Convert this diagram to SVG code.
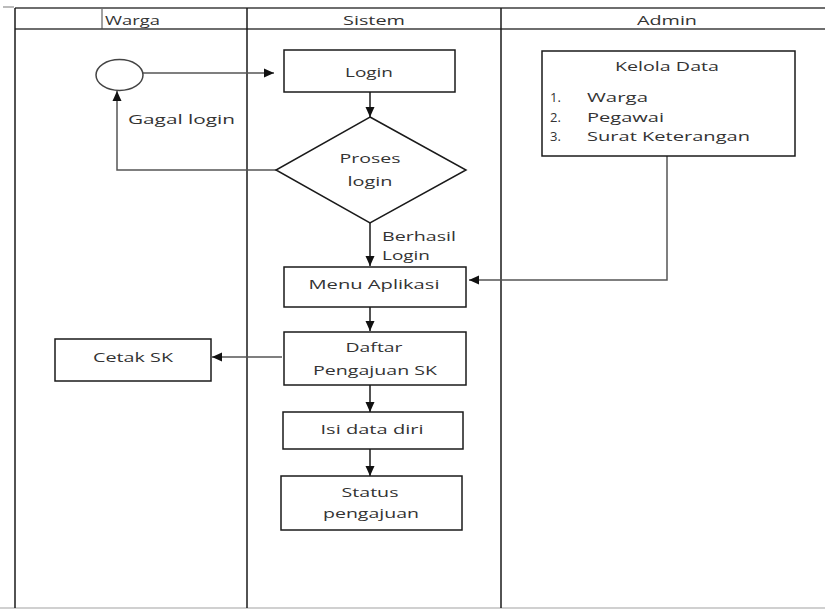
<svg xmlns="http://www.w3.org/2000/svg" width="825" height="610" viewBox="0 0 825 610">
<style>
  .lane{stroke:#1a1a1a;stroke-width:1.5;fill:none}
  .hline{stroke:#6e6e6e;stroke-width:2;fill:none}
  .box{fill:#fff;stroke:#1a1a1a;stroke-width:1.5}
  .edge{stroke:#1a1a1a;stroke-width:1.5;fill:none}
  .edgeg{stroke:#555;stroke-width:1.5;fill:none}
  text{font-family:"Open Sans","Liberation Sans",sans-serif;font-size:13px;fill:#333}
  .c{text-anchor:middle}
</style>
<defs>
  <marker id="arr" markerUnits="userSpaceOnUse" markerWidth="10" markerHeight="10" viewBox="0 0 10 10" refX="10" refY="5" orient="auto">
    <path d="M0,0.5 L10,5 L0,9.5 Z" fill="#111"/>
  </marker>
</defs>
<rect x="3" y="6" width="11" height="2" fill="#bbb"/>
<g id="lanes">
  <line class="hline" x1="15" y1="8" x2="825" y2="8"/>
  <line class="hline" x1="15" y1="29" x2="825" y2="29"/>
  <line x1="0" y1="608" x2="825" y2="608" stroke="#d0d0d0" stroke-width="2"/>
  <line class="lane" x1="15" y1="8" x2="15" y2="608"/>
  <line class="lane" x1="247" y1="8" x2="247" y2="608"/>
  <line class="lane" x1="501" y1="8" x2="501" y2="608"/>
  <line x1="102" y1="9" x2="102" y2="29" stroke="#444" stroke-width="1"/>
  <text x="105" y="25" textLength="55" lengthAdjust="spacingAndGlyphs">Warga</text>
  <text class="c" x="374" y="25" textLength="62" lengthAdjust="spacingAndGlyphs">Sistem</text>
  <text class="c" x="667" y="25" textLength="60" lengthAdjust="spacingAndGlyphs">Admin</text>
</g>
<g id="connectors">
  <line class="edgeg" x1="143" y1="73" x2="274" y2="73" marker-end="url(#arr)"/>
  <line class="edge" x1="370" y1="92" x2="370" y2="117" marker-end="url(#arr)"/>
  <polyline class="edgeg" points="276,170 117,170 117,91" marker-end="url(#arr)"/>
  <line class="edge" x1="370" y1="223" x2="370" y2="266" marker-end="url(#arr)"/>
  <polyline class="edgeg" points="667,156 667,280 469,280" marker-end="url(#arr)"/>
  <line class="edge" x1="370" y1="307" x2="370" y2="331" marker-end="url(#arr)"/>
  <line class="edgeg" x1="282" y1="357" x2="212" y2="357" marker-end="url(#arr)"/>
  <line class="edge" x1="370" y1="385" x2="370" y2="412" marker-end="url(#arr)"/>
  <line class="edge" x1="370" y1="449" x2="370" y2="476" marker-end="url(#arr)"/>
  <text x="128" y="124" textLength="107" lengthAdjust="spacingAndGlyphs">Gagal  login</text>
  <text x="382" y="241" textLength="74" lengthAdjust="spacingAndGlyphs">Berhasil</text>
  <text x="382" y="260" textLength="48" lengthAdjust="spacingAndGlyphs">Login</text>
</g>
<g id="start">
  <ellipse cx="119.5" cy="75" rx="23.5" ry="15.5" fill="#fff" stroke="#444" stroke-width="1.5"/>
</g>
<g id="login">
  <rect class="box" x="284" y="50" width="171" height="42"/>
  <text class="c" x="369" y="77" textLength="48" lengthAdjust="spacingAndGlyphs">Login</text>
</g>
<g id="proses-login">
  <polygon class="box" points="370,117 466,170 370,223 276,170" stroke="#444"/>
  <text class="c" x="370" y="163" textLength="61" lengthAdjust="spacingAndGlyphs">Proses</text>
  <text class="c" x="370" y="186" textLength="45" lengthAdjust="spacingAndGlyphs">login</text>
</g>
<g id="kelola-data">
  <rect class="box" x="542" y="51" width="253" height="105"/>
  <text class="c" x="667" y="71" textLength="104" lengthAdjust="spacingAndGlyphs">Kelola Data</text>
  <text x="550" y="102">1.</text>
  <text x="587" y="102" textLength="61" lengthAdjust="spacingAndGlyphs">Warga</text>
  <text x="550" y="122">2.</text>
  <text x="587" y="122" textLength="77" lengthAdjust="spacingAndGlyphs">Pegawai</text>
  <text x="550" y="141">3.</text>
  <text x="587" y="141" textLength="163" lengthAdjust="spacingAndGlyphs">Surat Keterangan</text>
</g>
<g id="menu-aplikasi">
  <rect class="box" x="284" y="267" width="182" height="40"/>
  <text class="c" x="374" y="289" textLength="131" lengthAdjust="spacingAndGlyphs">Menu Aplikasi</text>
</g>
<g id="daftar-pengajuan">
  <rect class="box" x="284" y="332" width="182" height="53"/>
  <text class="c" x="374" y="352" textLength="57" lengthAdjust="spacingAndGlyphs">Daftar</text>
  <text class="c" x="375" y="375" textLength="124" lengthAdjust="spacingAndGlyphs">Pengajuan SK</text>
</g>
<g id="cetak-sk">
  <rect class="box" x="55" y="339" width="156" height="42"/>
  <text class="c" x="133" y="362" textLength="80" lengthAdjust="spacingAndGlyphs">Cetak SK</text>
</g>
<g id="isi-data-diri">
  <rect class="box" x="283" y="412" width="180" height="37"/>
  <text class="c" x="372" y="434" textLength="103" lengthAdjust="spacingAndGlyphs">Isi data diri</text>
</g>
<g id="status-pengajuan">
  <rect class="box" x="281" y="476" width="181" height="54"/>
  <text class="c" x="370" y="497" textLength="57" lengthAdjust="spacingAndGlyphs">Status</text>
  <text class="c" x="371" y="518" textLength="96" lengthAdjust="spacingAndGlyphs">pengajuan</text>
</g>
</svg>
